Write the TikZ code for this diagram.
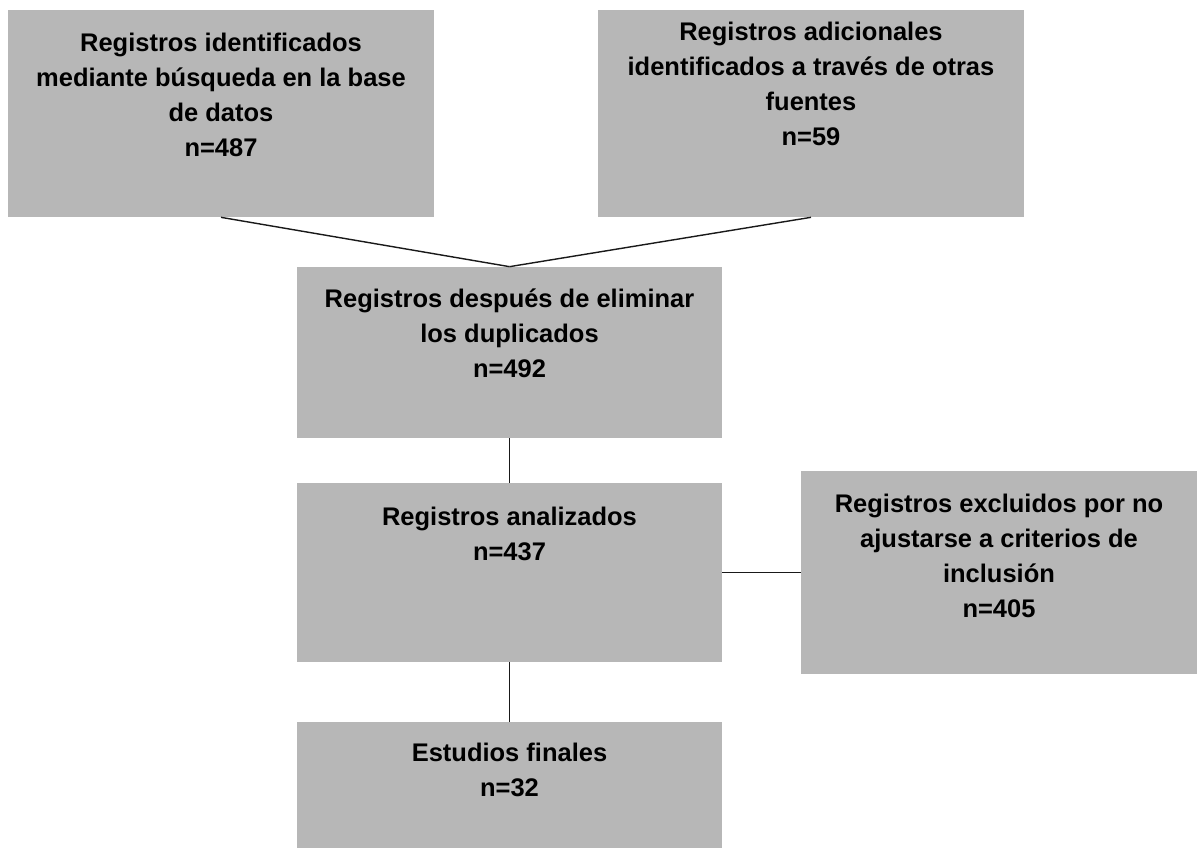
\documentclass[tikz,border=0pt]{standalone}
\usepackage{fontspec}
\setmainfont{Liberation Sans}
\usetikzlibrary{positioning}
\definecolor{boxgray}{HTML}{B7B7B7}

\begin{document}
\begin{tikzpicture}[x=0.02cm,y=-0.02cm,
  box/.style={fill=boxgray,draw=none,inner sep=0pt},
  boxtext/.style={align=center,inner sep=0pt,font=\bfseries\fontsize{14.5}{19.9}\selectfont},
  link/.style={draw=black!90,line width=0.8pt}]

\useasboundingbox (0,0) rectangle (1197,848);

% Boxes
\node[box,minimum width=8.52cm,minimum height=4.14cm] (db) at (221,113.5) {};
\node[box,minimum width=8.51cm,minimum height=4.14cm] (otras) at (811,113.5) {};
\node[box,minimum width=8.5cm,minimum height=3.42cm] (dup) at (509.5,352.5) {};
\node[box,minimum width=8.5cm,minimum height=3.58cm] (anal) at (509.5,572.5) {};
\node[box,minimum width=7.92cm,minimum height=4.06cm] (excl) at (999,572.5) {};
\node[box,minimum width=8.5cm,minimum height=2.52cm] (fin) at (509.5,785) {};

% Texts
\node[boxtext,below=0.46cm of db.north] (dbtext)
  {Registros identificados\\mediante búsqueda en la base\\de datos\\n=487};
\node[boxtext,below=0.24cm of otras.north] (otrastext)
  {Registros adicionales\\identificados a través de otras\\fuentes\\n=59};
\node[boxtext,below=0.44cm of dup.north] (duptext)
  {Registros después de eliminar\\los duplicados\\n=492};
\node[boxtext,below=0.48cm of anal.north] (analtext)
  {Registros analizados\\n=437};
\node[boxtext,below=0.46cm of excl.north] (excltext)
  {Registros excluidos por no\\ajustarse a criterios de\\inclusión\\n=405};
\node[boxtext,below=0.42cm of fin.north] (fintext)
  {Estudios finales\\n=32};

% Connectors
\draw[link] (db.south) -- (dup.north);
\draw[link] (otras.south) -- (dup.north);
\draw[link] (dup.south) -- (anal.north);
\draw[link] (anal.east) -- (excl.west);
\draw[link] (anal.south) -- (fin.north);

\end{tikzpicture}
\end{document}
